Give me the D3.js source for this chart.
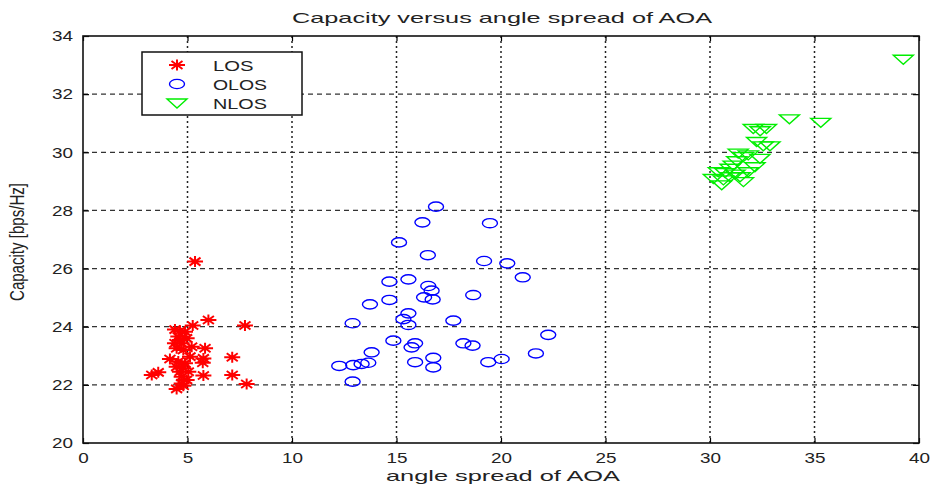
<!DOCTYPE html>
<html>
<head>
<meta charset="utf-8">
<script src="https://cdn.jsdelivr.net/npm/d3@7"></script>
<style>
  body { margin: 0; background: #fff; }
  text { font-family: "Liberation Sans", Arial, sans-serif; }
</style>
</head>
<body>
<div id="chart"></div>
<script>
// LOS points [angle spread, capacity]
const losData = [
  [5.36, 26.24], [6.0, 24.23], [7.75, 24.04], [5.25, 24.04], [4.4, 23.9],
  [4.64, 23.86], [4.88, 23.83], [4.56, 23.66], [4.64, 23.54], [4.96, 23.6],
  [4.4, 23.43], [4.72, 23.43], [5.2, 23.31], [5.84, 23.26], [4.48, 23.26],
  [4.8, 23.2], [5.76, 22.91], [7.14, 22.95], [5.12, 22.97], [4.16, 22.89],
  [4.56, 22.8], [4.88, 22.74], [5.73, 22.76], [4.48, 22.62], [4.8, 22.57],
  [5.04, 22.45], [4.64, 22.45], [3.29, 22.34], [3.6, 22.43], [5.76, 22.32],
  [7.14, 22.34], [4.72, 22.28], [4.96, 22.17], [4.72, 22.05], [7.83, 22.03],
  [4.48, 21.86], [4.8, 21.97]
];

// OLOS points
const olosData = [
  [16.89, 28.13], [16.24, 27.59], [19.47, 27.56], [15.12, 26.9], [16.5, 26.46],
  [19.19, 26.26], [20.3, 26.18], [21.04, 25.7], [14.66, 25.55], [15.57, 25.63],
  [16.52, 25.4], [16.68, 25.24], [18.67, 25.09], [16.32, 25.01], [16.73, 24.94],
  [14.66, 24.92], [13.73, 24.77], [15.57, 24.46], [15.33, 24.26], [15.57, 24.06],
  [12.9, 24.12], [17.72, 24.21], [22.26, 23.72], [14.85, 23.52], [15.89, 23.43],
  [15.72, 23.29], [18.2, 23.43], [18.64, 23.35], [13.81, 23.12], [21.67, 23.08],
  [16.76, 22.93], [20.03, 22.89], [15.89, 22.78], [19.39, 22.78], [16.76, 22.6],
  [12.26, 22.65], [12.93, 22.68], [13.33, 22.72], [13.65, 22.76], [12.9, 22.11]
];

// NLOS points
const nlosData = [
  [39.25, 33.2], [33.8, 31.15], [35.3, 31.03], [32.07, 30.82], [32.7, 30.82],
  [32.4, 30.74], [32.23, 30.37], [32.87, 30.22], [32.55, 30.22], [31.35, 29.97],
  [31.83, 29.91], [31.6, 29.85], [32.39, 29.79], [31.28, 29.71], [32.15, 29.5],
  [31.11, 29.56], [30.96, 29.45], [30.4, 29.33], [30.72, 29.3], [31.2, 29.25],
  [30.16, 29.1], [30.64, 29.05], [31.6, 28.99], [30.56, 28.88], [31.83, 29.33],
  [31.44, 29.16], [30.96, 29.16]
];

const xTicks = [0, 5, 10, 15, 20, 25, 30, 35, 40];
const yTicks = [20, 22, 24, 26, 28, 30, 32, 34];
const legendNames = ["LOS", "OLOS", "NLOS"];

const width = 933, height = 488;
const m = {left: 83, right: 919, top: 36, bottom: 443};

const svg = d3.select("#chart").append("svg")
  .attr("width", width)
  .attr("height", height);

const x = d3.scaleLinear().domain([0, 40]).range([m.left, m.right]);
const y = d3.scaleLinear().domain([20, 34]).range([m.bottom, m.top]);

// grid lines
svg.append("g").selectAll("line")
  .data(xTicks.slice(1, -1))
  .join("line")
  .attr("x1", d => x(d)).attr("x2", d => x(d))
  .attr("y1", m.top).attr("y2", m.bottom)
  .attr("stroke", "#222").attr("stroke-width", 1.5)
  .attr("stroke-dasharray", "2,3");

svg.append("g").selectAll("line")
  .data(yTicks.slice(1, -1))
  .join("line")
  .attr("y1", d => y(d)).attr("y2", d => y(d))
  .attr("x1", m.left).attr("x2", m.right)
  .attr("stroke", "#333").attr("stroke-width", 1.2)
  .attr("stroke-dasharray", "5,4");

// axes with inward ticks
const axB = svg.append("g").attr("transform", "translate(0," + m.bottom + ")")
  .call(d3.axisBottom(x).tickValues(xTicks).tickSizeInner(-5).tickSizeOuter(0).tickPadding(9));
const axT = svg.append("g").attr("transform", "translate(0," + m.top + ")")
  .call(d3.axisTop(x).tickValues(xTicks).tickSizeInner(-5).tickSizeOuter(0).tickFormat(""));
const axL = svg.append("g").attr("transform", "translate(" + m.left + ",0)")
  .call(d3.axisLeft(y).tickValues(yTicks).tickSizeInner(-6).tickSizeOuter(0).tickPadding(10));
const axR = svg.append("g").attr("transform", "translate(" + m.right + ",0)")
  .call(d3.axisRight(y).tickValues(yTicks).tickSizeInner(-6).tickSizeOuter(0).tickFormat(""));

[axB, axT, axL, axR].forEach(a => {
  a.select(".domain").remove();
  a.selectAll("line").attr("stroke", "#000").attr("stroke-width", 1.2);
  a.selectAll("text")
    .attr("font-size", 15)
    .attr("fill", "#222")
    .attr("font-family", "Liberation Sans, Arial, sans-serif");
});
axB.selectAll("text").each(function(d) {
  d3.select(this).attr("textLength", String(d).length * 10.5).attr("lengthAdjust", "spacingAndGlyphs");
});
axL.selectAll("text").attr("textLength", 21).attr("lengthAdjust", "spacingAndGlyphs");

// box
svg.append("rect")
  .attr("x", m.left).attr("y", m.top)
  .attr("width", m.right - m.left).attr("height", m.bottom - m.top)
  .attr("fill", "none").attr("stroke", "#111").attr("stroke-width", 1.6);

// markers
const starPath = "M-8,0H8M0,-5.5V5.5M-5.5,-4L5.5,4M-5.5,4L5.5,-4";
const triPath = "M-10,-4H10L0,5Z";

const drawStar = (g) => g.append("path").attr("d", starPath)
  .attr("stroke", "#ff0000").attr("stroke-width", 2).attr("fill", "none");
const drawCircle = (g) => g.append("ellipse").attr("rx", 7.5).attr("ry", 4.6)
  .attr("stroke", "#0000ff").attr("stroke-width", 1.4).attr("fill", "none");
const drawTri = (g) => g.append("path").attr("d", triPath)
  .attr("stroke", "#00ee00").attr("stroke-width", 1.4).attr("fill", "none");

const plotSeries = (data, draw) => {
  svg.append("g").selectAll("g")
    .data(data)
    .join("g")
    .attr("transform", d => "translate(" + x(d[0]) + "," + y(d[1]) + ")")
    .each(function() { draw(d3.select(this)); });
};
plotSeries(losData, drawStar);
plotSeries(olosData, drawCircle);
plotSeries(nlosData, drawTri);

// legend
const lg = svg.append("g");
lg.append("rect")
  .attr("x", 142).attr("y", 52).attr("width", 160).attr("height", 63)
  .attr("fill", "#fff").attr("stroke", "#111").attr("stroke-width", 1.5);
const drawers = [drawStar, drawCircle, drawTri];
legendNames.forEach((name, i) => {
  const row = lg.append("g").attr("transform", "translate(177," + (65 + i * 19) + ")");
  drawers[i](row);
  lg.append("text")
    .attr("x", 213).attr("y", 65 + i * 19 + 5.5)
    .attr("font-size", 15).attr("fill", "#222")
    .attr("textLength", name.length * 13.5).attr("lengthAdjust", "spacingAndGlyphs")
    .text(name);
});

// title and axis labels
svg.append("text")
  .attr("x", 292).attr("y", 23)
  .attr("font-size", 15).attr("fill", "#222")
  .attr("textLength", 420).attr("lengthAdjust", "spacingAndGlyphs")
  .text("Capacity versus angle spread of AOA");

svg.append("text")
  .attr("x", 386).attr("y", 481)
  .attr("font-size", 15).attr("fill", "#222")
  .attr("textLength", 234).attr("lengthAdjust", "spacingAndGlyphs")
  .text("angle spread of AOA");

svg.append("text")
  .attr("transform", "translate(24,242) rotate(-90) scale(1,1.3)")
  .attr("text-anchor", "middle")
  .attr("font-size", 15).attr("fill", "#222")
  .attr("textLength", 118).attr("lengthAdjust", "spacingAndGlyphs")
  .text("Capacity [bps/Hz]");
</script>
</body>
</html>
